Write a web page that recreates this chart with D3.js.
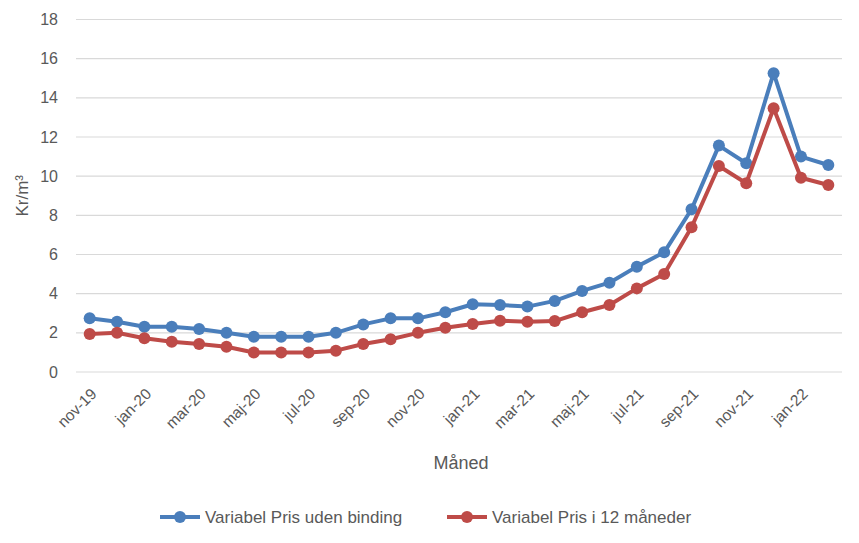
<!DOCTYPE html>
<html>
<head>
<meta charset="utf-8">
<script src="https://cdn.jsdelivr.net/npm/d3@7"></script>
<style>
  body { margin: 0; background: #fff; }
  text { font-family: "Liberation Sans", Arial, sans-serif; fill: #595959; }
</style>
</head>
<body>
<svg id="chart"></svg>
<script>
const months = ["nov-19","dec-19","jan-20","feb-20","mar-20","apr-20","maj-20","jun-20","jul-20","aug-20","sep-20","okt-20",
  "nov-20","dec-20","jan-21","feb-21","mar-21","apr-21","maj-21","jun-21","jul-21","aug-21","sep-21","okt-21",
  "nov-21","dec-21","jan-22","feb-22"];
const udenBinding = [2.74,2.57,2.31,2.31,2.2,2.0,1.8,1.8,1.8,2.0,2.43,2.74,
  2.74,3.05,3.46,3.42,3.34,3.63,4.14,4.56,5.38,6.11,8.31,11.56,10.66,15.26,11.0,10.57];
const tolvMaaneder = [1.94,2.0,1.72,1.55,1.43,1.29,1.0,1.0,1.0,1.09,1.43,1.67,
  2.0,2.26,2.45,2.62,2.57,2.6,3.05,3.42,4.27,5.0,7.39,10.52,9.64,13.47,9.92,9.55];
const yTicks = [0,2,4,6,8,10,12,14,16,18];
const series = [
  { name: "Variabel Pris uden binding", values: udenBinding, color: "#4a7ebb" },
  { name: "Variabel Pris i 12 måneder", values: tolvMaaneder, color: "#be4b48" }
];

const width = 859, height = 543;
const margin = { left: 76, right: 17, top: 19.5, bottom: 171 };

const svg = d3.select("#chart").attr("width", width).attr("height", height);

const x = d3.scaleBand().domain(months).range([margin.left, width - margin.right]);
const y = d3.scaleLinear().domain([0, 18]).range([height - margin.bottom, margin.top]);

// gridlines
svg.append("g")
  .selectAll("line")
  .data(yTicks)
  .join("line")
  .attr("x1", margin.left)
  .attr("x2", width - margin.right)
  .attr("y1", d => y(d))
  .attr("y2", d => y(d))
  .attr("stroke", "#d9d9d9")
  .attr("stroke-width", 1.2);

// y axis labels
const yAxis = svg.append("g")
  .attr("transform", `translate(${margin.left},0)`)
  .call(d3.axisLeft(y).tickValues(yTicks).tickSize(0).tickPadding(18));
yAxis.select(".domain").remove();
yAxis.selectAll("text").style("font-size", "16px").attr("fill", "#595959");

// x axis labels, every other month
const xAxis = svg.append("g")
  .attr("transform", `translate(0,${y(0)})`)
  .call(d3.axisBottom(x).tickValues(months.filter((d, i) => i % 2 === 0)).tickSize(0));
xAxis.select(".domain").remove();
xAxis.selectAll("text")
  .style("font-size", "15.5px")
  .attr("fill", "#595959")
  .attr("text-anchor", "end")
  .attr("transform", "translate(4,19) rotate(-45)")
  .attr("dy", "0.35em")
  .attr("y", 0);

// axis titles
svg.append("text")
  .attr("transform", `translate(28,${y(9)}) rotate(-90)`)
  .attr("text-anchor", "middle")
  .style("font-size", "17px")
  .text("Kr/m³");

svg.append("text")
  .attr("x", 461)
  .attr("y", 469)
  .attr("text-anchor", "middle")
  .style("font-size", "18px")
  .text("Måned");

// lines and markers
const line = d3.line()
  .x((d, i) => x(months[i]) + x.bandwidth() / 2)
  .y(d => y(d));

series.forEach(s => {
  svg.append("path")
    .datum(s.values)
    .attr("fill", "none")
    .attr("stroke", s.color)
    .attr("stroke-width", 4)
    .attr("stroke-linejoin", "round")
    .attr("d", line);
  svg.append("g")
    .selectAll("circle")
    .data(s.values)
    .join("circle")
    .attr("cx", (d, i) => x(months[i]) + x.bandwidth() / 2)
    .attr("cy", d => y(d))
    .attr("r", 6)
    .attr("fill", s.color);
});

// legend
const legendX = [160, 447];
const legend = svg.append("g")
  .selectAll("g")
  .data(series)
  .join("g")
  .attr("transform", (d, i) => `translate(${legendX[i]},517)`);
legend.append("line")
  .attr("x1", 0).attr("x2", 40)
  .attr("stroke", d => d.color)
  .attr("stroke-width", 4);
legend.append("circle")
  .attr("cx", 20).attr("r", 6)
  .attr("fill", d => d.color);
legend.append("text")
  .attr("x", 45)
  .attr("dy", "0.35em")
  .style("font-size", "17px")
  .text(d => d.name);
</script>
</body>
</html>
